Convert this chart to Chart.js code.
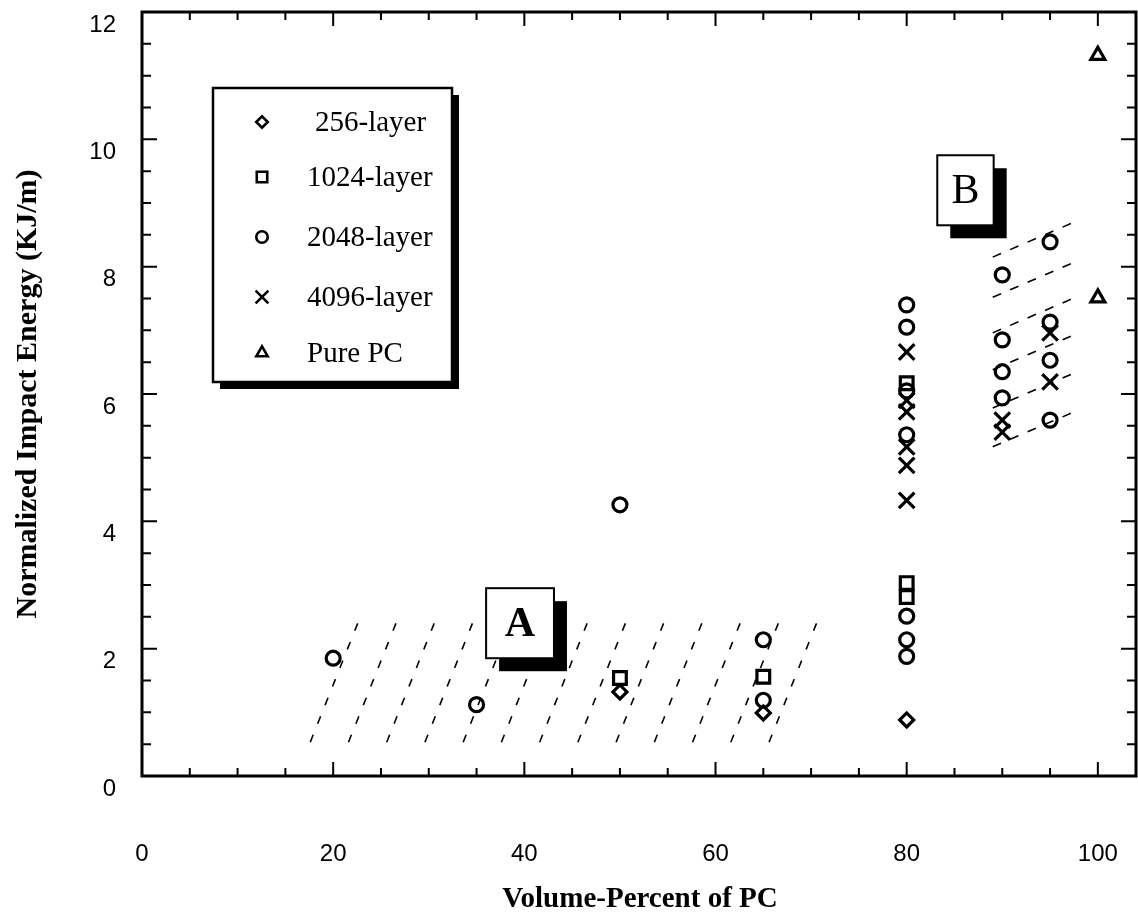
<!DOCTYPE html>
<html>
<head>
<meta charset="utf-8">
<title>Normalized Impact Energy vs Volume-Percent of PC</title>
<style>
  html, body { margin: 0; padding: 0; background: #fff; }
  #wrap { width: 1138px; height: 923px; }
</style>
<script src="https://cdn.jsdelivr.net/npm/chart.js@4.4.1/dist/chart.umd.min.js"></script>
</head>
<body>
<div id="wrap"><canvas id="impactChart" width="1138" height="923"></canvas></div>
<script>
// Impact energy scatter

// 256-layer (diamonds)
const pc256 = [50, 65, 80];
const energy256 = [1.32, 0.99, 0.88];

// 1024-layer (squares)
const pc1024 = [50, 65, 80, 80, 80];
const energy1024 = [1.54, 1.56, 2.81, 3.03, 6.17];

// 2048-layer (circles)
const pc2048 = [20, 35, 50, 65, 65, 80, 80, 80, 80, 80, 80, 80, 90, 90, 90, 90, 95, 95, 95, 95];
const energy2048 = [1.85, 1.12, 4.26, 2.14, 1.19, 7.40, 7.05, 6.05, 5.36, 2.51, 2.14, 1.88, 7.87, 6.85, 6.35, 5.94, 8.39, 7.13, 6.53, 5.59];

// 4096-layer (crosses)
const pc4096 = [80, 80, 80, 80, 80, 80, 90, 90, 95, 95];
const energy4096 = [6.66, 5.90, 5.72, 5.17, 4.88, 4.33, 5.59, 5.40, 6.96, 6.19];

// Pure PC (triangles)
const pcPure = [100, 100];
const energyPure = [11.32, 7.51];

const seriesLabels = ['256-layer', '1024-layer', '2048-layer', '4096-layer', 'Pure PC'];

// hatched region A: steep dashed lines (bottom end -> top end)
const hatchA_bottomX = [17.6, 21.6, 25.6, 29.6, 33.6, 37.6, 41.6, 45.6, 49.6, 53.6, 57.6, 61.6, 65.6];
const hatchA_topX = [23.0, 27.0, 31.0, 35.0, 39.0, 43.0, 47.0, 51.0, 55.0, 59.0, 63.0, 67.0, 71.0];
const hatchA_bottomY = 0.53;
const hatchA_topY = 2.56;

// hatched region B: shallow dashed lines (left end -> right end)
const hatchB_leftX = 89;
const hatchB_rightX = 98;
const hatchB_leftY = [8.15, 7.52, 6.96, 6.38, 5.78, 5.17];
const hatchB_rightY = [8.73, 8.10, 7.54, 6.96, 6.36, 5.75];

// labelled boxes (data coords: left, right, top, bottom)
const boxText = ['A', 'B'];
const boxLeft = [36.0, 83.2];
const boxRight = [43.1, 89.1];
const boxTop = [2.95, 9.75];
const boxBottom = [1.85, 8.65];

const serif = "'Liberation Serif', 'Times New Roman', serif";
const sans = "'Liberation Sans', Arial, sans-serif";

function toPoints(xs, ys) {
    return xs.map((x, i) => ({ x: x, y: ys[i] }));
}

function markerSet(label, xs, ys, style, radius) {
    return {
        label: label,
        data: toPoints(xs, ys),
        pointStyle: style,
        pointRadius: radius,
        pointHoverRadius: radius,
        pointBorderWidth: 3.2,
        pointBorderColor: '#000',
        pointBackgroundColor: 'rgba(0,0,0,0)',
        showLine: false,
        isMarker: true
    };
}

const markerSets = [
    markerSet(seriesLabels[0], pc256, energy256, 'rectRot', 7),
    markerSet(seriesLabels[1], pc1024, energy1024, 'rect', 9),
    markerSet(seriesLabels[2], pc2048, energy2048, 'circle', 7),
    markerSet(seriesLabels[3], pc4096, energy4096, 'crossRot', 11),
    markerSet(seriesLabels[4], pcPure, energyPure, 'triangle', 8)
];

const hatchSets = [];
hatchA_bottomX.forEach((x0, i) => {
    hatchSets.push({
        type: 'line',
        data: [{ x: x0, y: hatchA_bottomY }, { x: hatchA_topX[i], y: hatchA_topY }],
        borderColor: '#000',
        borderWidth: 1.6,
        borderDash: [8, 12],
        pointRadius: 0,
        showLine: true
    });
});
hatchB_leftY.forEach((y0, i) => {
    hatchSets.push({
        type: 'line',
        data: [{ x: hatchB_leftX, y: y0 }, { x: hatchB_rightX, y: hatchB_rightY[i] }],
        borderColor: '#000',
        borderWidth: 1.6,
        borderDash: [9, 10],
        pointRadius: 0,
        showLine: true
    });
});

// frame + inward major/minor ticks on all four sides
const frameTicks = {
    id: 'frameTicks',
    beforeDatasetsDraw(chart) {
        const { ctx, chartArea: a, scales } = chart;
        const sx = scales.x, sy = scales.y;
        ctx.save();
        ctx.strokeStyle = '#000';
        ctx.lineWidth = 3;
        ctx.strokeRect(a.left, a.top, a.right - a.left - 2, a.bottom - a.top);
        ctx.lineWidth = 2;
        ctx.beginPath();
        for (let v = 0; v <= 100; v += 5) {
            const px = sx.getPixelForValue(v);
            const len = v % 20 === 0 ? 14 : 8;
            ctx.moveTo(px, a.bottom); ctx.lineTo(px, a.bottom - len);
            ctx.moveTo(px, a.top); ctx.lineTo(px, a.top + len);
        }
        for (let v = 0; v <= 12; v += 0.5) {
            const py = sy.getPixelForValue(v);
            const len = v % 2 === 0 ? 15 : 9;
            ctx.moveTo(a.left, py); ctx.lineTo(a.left + len, py);
            ctx.moveTo(a.right - 2, py); ctx.lineTo(a.right - 2 - len, py);
        }
        ctx.stroke();
        ctx.restore();
    }
};

// boxed letters with black drop shadow, and the legend panel
const overlays = {
    id: 'overlays',
    afterDatasetsDraw(chart) {
        const { ctx, scales } = chart;
        const sx = scales.x, sy = scales.y;
        ctx.save();
        boxText.forEach((t, i) => {
            const l = sx.getPixelForValue(boxLeft[i]);
            const r = sx.getPixelForValue(boxRight[i]);
            const tp = sy.getPixelForValue(boxTop[i]);
            const b = sy.getPixelForValue(boxBottom[i]);
            ctx.fillStyle = '#000';
            ctx.fillRect(l + 13, tp + 13, r - l, b - tp);
            ctx.fillStyle = '#fff';
            ctx.fillRect(l, tp, r - l, b - tp);
            ctx.lineWidth = 2;
            ctx.strokeStyle = '#000';
            ctx.strokeRect(l, tp, r - l, b - tp);
            ctx.fillStyle = '#000';
            ctx.font = (t === 'A' ? 'bold ' : '') + '42px ' + serif;
            ctx.textAlign = 'center';
            ctx.textBaseline = 'middle';
            ctx.fillText(t, (l + r) / 2, (tp + b) / 2 + 2);
        });

        // legend
        const lg = { left: 213, top: 88, width: 239, height: 294 };
        ctx.fillStyle = '#000';
        ctx.fillRect(lg.left + 7, lg.top + 7, lg.width, lg.height);
        ctx.fillStyle = '#fff';
        ctx.fillRect(lg.left, lg.top, lg.width, lg.height);
        ctx.lineWidth = 2.5;
        ctx.strokeStyle = '#000';
        ctx.strokeRect(lg.left, lg.top, lg.width, lg.height);
        const rows = [34, 89, 149, 209, 265];
        chart.data.datasets.filter(d => d.isMarker).forEach((d, i) => {
            const cy = lg.top + rows[i];
            ctx.strokeStyle = '#000';
            ctx.fillStyle = 'rgba(0,0,0,0)';
            ctx.lineWidth = 2.6;
            Chart.helpers.drawPoint(ctx, {
                pointStyle: d.pointStyle,
                radius: d.pointRadius * 0.82,
                rotation: 0,
                borderWidth: 2.6
            }, lg.left + 49, cy);
            ctx.fillStyle = '#000';
            ctx.font = '29px ' + serif;
            ctx.textAlign = 'left';
            ctx.textBaseline = 'middle';
            ctx.fillText(d.label, lg.left + (i === 0 ? 102 : 94), cy + 1);
        });
        ctx.restore();
    }
};

function zeroPad(s) {
    s.paddingLeft = 0;
    s.paddingRight = 0;
    s.paddingTop = 0;
    s.paddingBottom = 0;
}

new Chart(document.getElementById('impactChart'), {
    type: 'scatter',
    data: { datasets: markerSets.concat(hatchSets) },
    options: {
        responsive: false,
        animation: false,
        layout: { autoPadding: false, padding: { top: 12, right: 0, bottom: 0, left: 0 } },
        plugins: {
            legend: { display: false },
            tooltip: { enabled: false }
        },
        scales: {
            x: {
                type: 'linear',
                min: 0,
                max: 104.2,
                grid: { display: false, drawTicks: false },
                border: { display: false },
                ticks: {
                    stepSize: 20,
                    includeBounds: false,
                    padding: 64,
                    color: '#000',
                    font: { family: sans, size: 24 }
                },
                title: {
                    display: true,
                    text: 'Volume-Percent of PC',
                    color: '#000',
                    font: { family: serif, size: 29, weight: 'bold' },
                    padding: { top: 0, bottom: 6 }
                },
                afterFit: function(s) { s.height = 147; zeroPad(s); }
            },
            y: {
                type: 'linear',
                min: 0,
                max: 12,
                grid: { display: false, drawTicks: false },
                border: { display: false },
                ticks: {
                    stepSize: 2,
                    padding: 26,
                    labelOffset: 13,
                    color: '#000',
                    font: { family: sans, size: 24 }
                },
                title: {
                    display: true,
                    text: 'Normalized Impact Energy (KJ/m)',
                    color: '#000',
                    font: { family: serif, size: 30, weight: 'bold' },
                    padding: { top: 10, bottom: 0 }
                },
                afterFit: function(s) { s.width = 142; zeroPad(s); }
            }
        }
    },
    plugins: [frameTicks, overlays]
});
</script>
</body>
</html>
